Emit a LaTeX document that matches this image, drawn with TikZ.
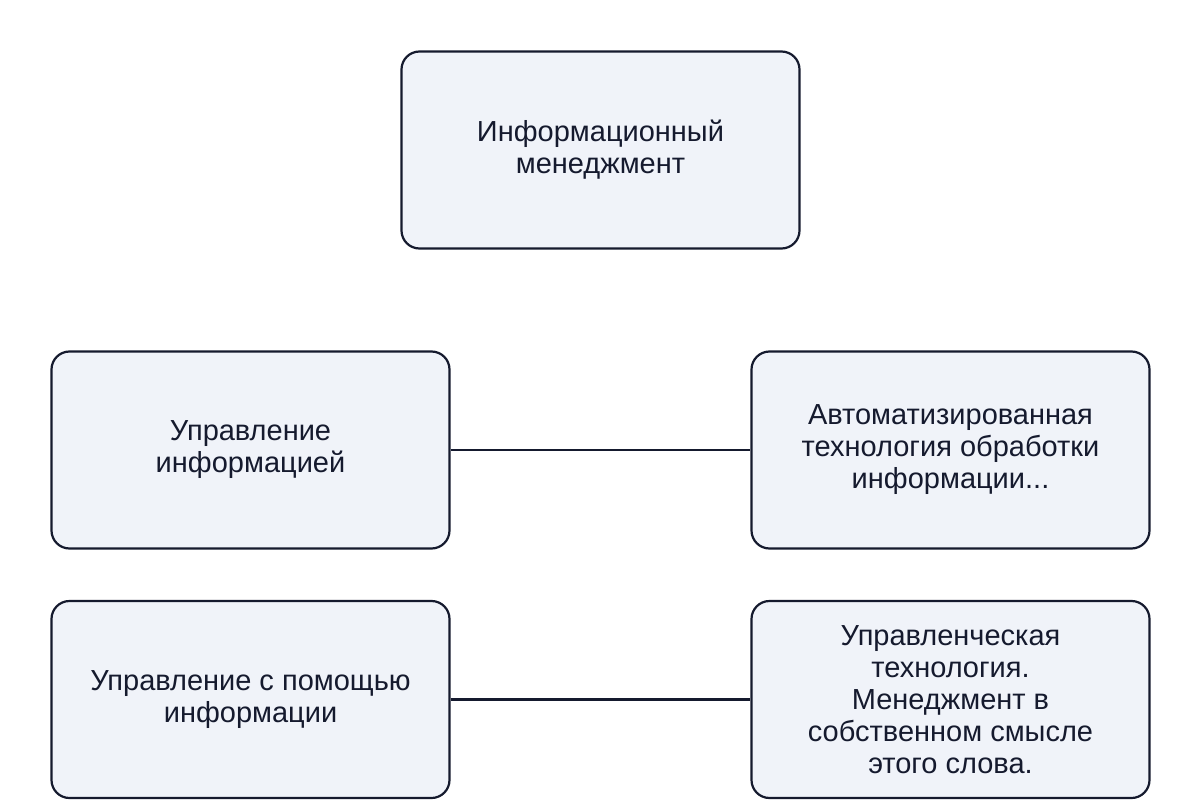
\documentclass[tikz,border=0pt]{standalone}
\usepackage{fontspec}
\setmainfont{Liberation Sans}
\definecolor{boxfill}{HTML}{F0F3F9}
\definecolor{ink}{HTML}{151A2E}
\begin{document}
\begin{tikzpicture}[x=1pt,y=-1pt,
  box/.style={draw=ink,line width=2.2pt,fill=boxfill,rounded corners=18pt,
    minimum width=398pt,minimum height=197pt,align=center,text=ink,
    font=\fontsize{29}{32}\selectfont,inner sep=4pt},
  link/.style={draw=ink,line width=2.2pt}]
\useasboundingbox (0,0) rectangle (1200,800);
\node[box] (top) at (600.5,150) {Информационный\\менеджмент};
\node[box] (l1) at (250.5,450) {Управление\\информацией};
\node[box] (r1) at (950.5,450) {Автоматизированная\\технология обработки\\информации...};
\node[box] (l2) at (250.5,699.5) {Управление с помощью\\информации};
\node[box] (r2) at (950.5,699.5) {Управленческая\\технология.\\Менеджмент в\\собственном смысле\\этого слова.};
\draw[link] (l1) -- (r1);
\draw[link] (l2) -- (r2);
\end{tikzpicture}
\end{document}
